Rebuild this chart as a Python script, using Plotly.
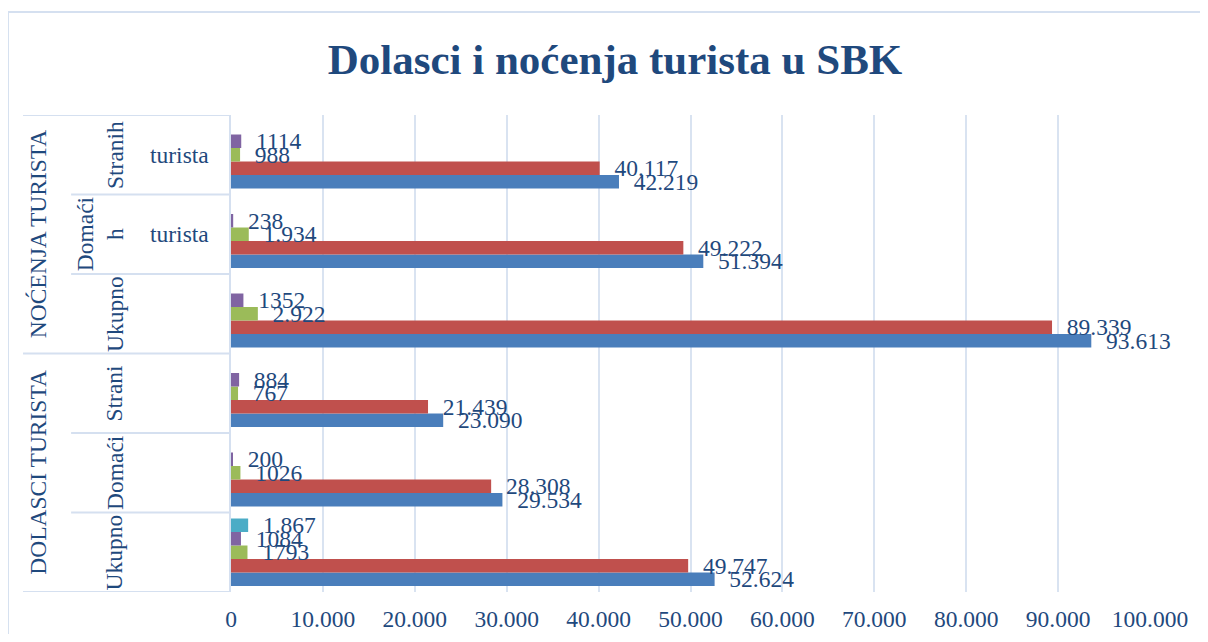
import plotly.graph_objects as go

# ---- data ----
level1 = ["DOLASCI TURISTA", "DOLASCI TURISTA", "DOLASCI TURISTA",
          "NOĆENJA TURISTA", "NOĆENJA TURISTA", "NOĆENJA TURISTA"]
level2 = ["Ukupno", "Domaći", "Strani", "Ukupno", "Domaćih", "Stranih"]
level3 = ["", "", "", "", "turista", "turista"]

s1_vals = [52624, 29534, 23090, 93613, 51394, 42219]
s1_text = ["52.624", "29.534", "23.090", "93.613", "51.394", "42.219"]
s2_vals = [49747, 28308, 21439, 89339, 49222, 40117]
s2_text = ["49.747", "28.308", "21.439", "89.339", "49.222", "40.117"]
s3_vals = [1793, 1026, 767, 2922, 1934, 988]
s3_text = ["1793", "1026", "767", "2.922", "1.934", "988"]
s4_vals = [1084, 200, 884, 1352, 238, 1114]
s4_text = ["1084", "200", "884", "1352", "238", "1114"]
s5_vals = [1867, None, None, None, None, None]
s5_text = ["1.867", "", "", "", "", ""]

series = [
    ("Serija 1", s1_vals, s1_text, "#4a7ebb"),
    ("Serija 2", s2_vals, s2_text, "#c0504d"),
    ("Serija 3", s3_vals, s3_text, "#9bbb59"),
    ("Serija 4", s4_vals, s4_text, "#8064a2"),
    ("Serija 5", s5_vals, s5_text, "#4bacc6"),
]

x_ticks = list(range(0, 100001, 10000))

cats = [f"{a}|{b}|{c}" for a, b, c in zip(level1, level2, level3)]

FONT = "Liberation Serif, Times New Roman, serif"
TXT = "#1f497d"
LINE = "#d5e0f0"
FS = 23.5
NB = "\u00a0\u00a0"

# page body has an 8px margin: figure is sized to fit the 1208x642 window
W, H = 1192, 626

fig = go.Figure()
for name, vals, texts, col in series:
    fig.add_trace(go.Bar(
        name=name, y=cats, x=vals, orientation="h",
        marker=dict(color=col, line=dict(width=0)),
        text=[(NB + t) if t else "" for t in texts],
        textposition="outside", constraintext="none", cliponaxis=False,
        textfont=dict(family=FONT, size=FS, color=TXT),
        showlegend=False, hoverinfo="x+y",
    ))

annotations = []
shapes = []

# level 1 group labels
groups = {}
for i, g in enumerate(level1):
    groups.setdefault(g, []).append(i)
for g, idx in groups.items():
    annotations.append(dict(text=g, xref="paper", yref="y", x=-0.210,
                            y=(idx[0] + idx[-1]) / 2, textangle=-90,
                            showarrow=False, xanchor="center", yanchor="middle",
                            font=dict(family=FONT, size=FS, color=TXT)))
# level 2 labels
for i, t in enumerate(level2):
    txt = t
    xpos = -0.127
    if t == "Domaćih":
        txt = "Domaći<br>h"
        xpos = -0.1425
    annotations.append(dict(text=txt, xref="paper", yref="y", x=xpos, y=i,
                            textangle=-90, showarrow=False,
                            xanchor="center", yanchor="middle",
                            font=dict(family=FONT, size=FS, color=TXT)))
# level 3 labels
for i, t in enumerate(level3):
    if t:
        annotations.append(dict(text=t, xref="paper", yref="y", x=-0.0555, y=i,
                                showarrow=False, xanchor="center", yanchor="middle",
                                font=dict(family=FONT, size=FS, color=TXT)))

# table lines of the category axis
n = len(cats)
for k in range(n + 1):
    yb = k - 0.5
    is_group = k == 0 or k == n or level1[k] != level1[k - 1]
    x0 = -0.2263 if is_group else -0.174
    shapes.append(dict(type="line", xref="paper", yref="y", x0=x0, x1=0,
                       y0=yb, y1=yb, line=dict(color=LINE, width=2)))

# outer chart border
shapes.append(dict(type="rect", xref="paper", yref="paper",
                   x0=-0.2427, x1=1.08, y0=-0.15, y1=1.216,
                   line=dict(color=LINE, width=2), layer="below"))

fig.update_layout(
    width=W, height=H,
    margin=dict(l=223, r=50, t=107, b=42),
    paper_bgcolor="white", plot_bgcolor="white",
    barmode="group", bargap=0.151, bargroupgap=0,
    separators=",.",
    title=dict(text="<b>Dolasci i noćenja turista u SBK</b>",
               x=(615 - 8) / W, xanchor="center", xref="container",
               y=1 - (59 - 8) / H, yanchor="middle", yref="container",
               font=dict(family=FONT, size=43, color=TXT)),
    xaxis=dict(range=[0, 100000], tickvals=x_ticks, tickformat=",d",
               showgrid=True, gridcolor="#d9e3f1", gridwidth=1.5,
               zeroline=False, showline=False, ticks="",
               ticklabelstandoff=10, automargin=False,
               tickfont=dict(family=FONT, size=FS, color=TXT)),
    yaxis=dict(type="category", categoryorder="array", categoryarray=cats,
               range=[-0.5, n - 0.5], showticklabels=False, ticks="",
               showgrid=False, zeroline=False, automargin=False,
               showline=True, linecolor=LINE, linewidth=2),
    annotations=annotations, shapes=shapes,
    showlegend=False,
)

fig.write_html("out.html")
